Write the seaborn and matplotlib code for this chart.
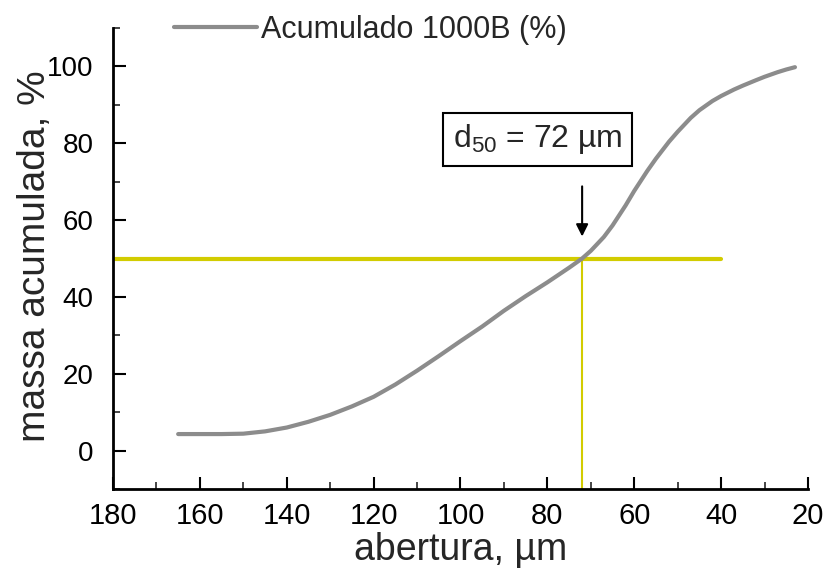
import matplotlib
matplotlib.use("Agg")
import matplotlib.pyplot as plt
from matplotlib.ticker import MultipleLocator
import seaborn as sns
import pandas as pd

abertura = [165, 160, 155, 150, 145, 140, 135, 130, 125, 120, 115, 110, 105, 100,
            95, 90, 85, 80, 75, 72, 70, 67, 65, 62, 60, 57, 55, 52, 50, 47, 45,
            42, 40, 37, 35, 32, 30, 27, 25, 23]
acumulado = [4.3, 4.3, 4.3, 4.4, 5.0, 6.0, 7.5, 9.3, 11.5, 14.0, 17.2, 20.8, 24.6, 28.5,
             32.3, 36.4, 40.2, 43.8, 47.6, 50.0, 52.0, 55.6, 58.6, 63.8, 67.6, 72.8, 76.0,
             80.4, 83.0, 86.6, 88.6, 91.0, 92.3, 94.0, 95.0, 96.4, 97.3, 98.5, 99.2, 99.8]
series_name = "Acumulado 1000B (%)"
d50 = 72
level = 50
hline_x = [180, 40]
xticks = [180, 160, 140, 120, 100, 80, 60, 40, 20]
yticks = [0, 20, 40, 60, 80, 100]

sns.set_style("ticks")
plt.rcParams['font.family'] = ['Liberation Sans', 'DejaVu Sans']
plt.rcParams['mathtext.default'] = 'regular'

df = pd.DataFrame({"abertura": abertura, "massa": acumulado})

fig = plt.figure(figsize=(8.29, 5.70), dpi=100)
ax = fig.add_axes([113/829, 1-489/570, (808-113)/829, (489-28)/570])

sns.lineplot(data=df, x="abertura", y="massa", ax=ax, color="#8c8c8c", lw=3,
             label=series_name, zorder=3)

yellow = "#d2cc00"
ax.plot(hline_x, [level, level], color=yellow, lw=3, zorder=2)
ax.plot([d50, d50], [-10, level], color=yellow, lw=1.5, zorder=2)

ax.annotate("", xy=(d50, 55), xytext=(d50, 69.5),
            arrowprops=dict(arrowstyle='-|>', color='black', lw=1.5,
                            mutation_scale=18))
ax.text(82.3, 81, r'd$_{50}$ = 72 µm', fontsize=23, ha='center', va='center',
        bbox=dict(boxstyle='square,pad=0.3', fc='white', ec='black', lw=1.5))

ax.set_xlim(180, 20)
ax.set_ylim(-10, 110)
ax.set_xticks(xticks)
ax.set_yticks(yticks)
ax.xaxis.set_minor_locator(MultipleLocator(10))
ax.yaxis.set_minor_locator(MultipleLocator(10))
ax.tick_params(which='major', direction='in', length=9, width=1.5, labelsize=21,
               colors='black')
ax.tick_params(axis='x', which='major', pad=9)
ax.tick_params(axis='y', which='major', pad=14, labelsize=20)
ax.tick_params(which='minor', direction='in', length=5, width=1.2)
for s in ['top', 'right']:
    ax.spines[s].set_visible(False)
for s in ['left', 'bottom']:
    ax.spines[s].set_linewidth(2)
    ax.spines[s].set_color('black')

ax.set_xlabel("abertura, µm", fontsize=27, labelpad=2)
ax.set_ylabel("massa acumulada, %", fontsize=28)
ax.yaxis.set_label_coords(-0.086, 0.505)

ax.legend(loc='center left', bbox_to_anchor=(174/829, 1-30/570),
          bbox_transform=fig.transFigure, frameon=False, fontsize=22,
          handlelength=2.7, handletextpad=0.15, borderpad=0, borderaxespad=0)

fig.savefig("out.png", dpi=100)
